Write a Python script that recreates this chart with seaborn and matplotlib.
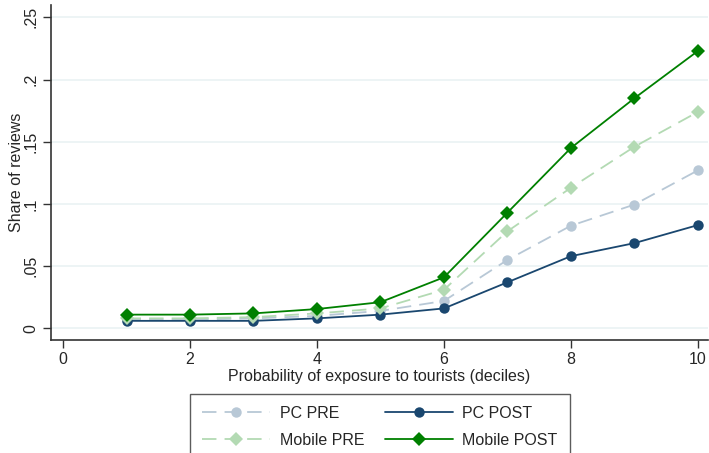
import matplotlib
matplotlib.use("Agg")
import matplotlib.pyplot as plt
import seaborn as sns
import pandas as pd
import numpy as np

deciles = [1, 2, 3, 4, 5, 6, 7, 8, 9, 10]
pc_pre = [0.007, 0.007, 0.008, 0.010, 0.014, 0.022, 0.055, 0.0825, 0.0995, 0.127]
pc_post = [0.006, 0.006, 0.006, 0.008, 0.011, 0.016, 0.037, 0.058, 0.0685, 0.083]
mobile_pre = [0.008, 0.008, 0.009, 0.012, 0.016, 0.031, 0.078, 0.113, 0.146, 0.174]
mobile_post = [0.011, 0.011, 0.012, 0.0155, 0.021, 0.041, 0.093, 0.145, 0.185, 0.223]
series_names = ["PC PRE", "PC POST", "Mobile PRE", "Mobile POST"]
x_ticks = [0, 2, 4, 6, 8, 10]
y_ticks = [0, 0.05, 0.1, 0.15, 0.2, 0.25]
y_ticklabels = ["0", ".05", ".1", ".15", ".2", ".25"]

sns.set_style("white")
plt.rcParams["font.family"] = ["Liberation Sans", "DejaVu Sans"]

df = pd.DataFrame({
    "x": deciles * 4,
    "y": pc_pre + pc_post + mobile_pre + mobile_post,
    "series": sum([[n] * len(deciles) for n in series_names], []),
})

styles = {
    "PC PRE": dict(color="#b8c8d6", marker="o", dashes=(8, 4.5), ms=7.5),
    "PC POST": dict(color="#1a476f", marker="o", dashes=None, ms=7.5),
    "Mobile PRE": dict(color="#b3dab3", marker="D", dashes=(8, 4.5), ms=7.5),
    "Mobile POST": dict(color="#008000", marker="D", dashes=None, ms=7.5),
}

fig = plt.figure(figsize=(7.09, 4.53), dpi=100)
ax = fig.add_axes([51 / 709, 113 / 453, 657 / 709, 335 / 453])

lines = {}
for name in series_names:
    st = styles[name]
    sub = df[df["series"] == name]
    sns.lineplot(data=sub, x="x", y="y", ax=ax, color=st["color"], marker=st["marker"],
                 markersize=st["ms"], markeredgewidth=0, linewidth=1.3, label=name,
                 legend=False)
    line = ax.lines[-1]
    if st["dashes"] is not None:
        line.set_dashes(st["dashes"])
    lines[name] = line

ax.set_xlim(-0.19, 10.16)
ax.set_ylim(-0.0094, 0.26)
ax.set_xticks(x_ticks)
ax.set_yticks(y_ticks)
ax.set_yticklabels(y_ticklabels, rotation=90, va="center")
ax.tick_params(axis="both", bottom=True, left=True, length=6, width=1, color="#333333",
               labelsize=11.5, direction="out")
ax.tick_params(axis="y", pad=3)
ax.tick_params(axis="x", pad=3)
ax.grid(axis="y", color="#eaf2f3", linewidth=1.2)
ax.set_axisbelow(True)
for side in ["top", "right"]:
    ax.spines[side].set_visible(False)
for side in ["left", "bottom"]:
    ax.spines[side].set_color("#333333")
    ax.spines[side].set_linewidth(1.2)
ax.set_xlabel("Probability of exposure to tourists (deciles)", fontsize=11.5, labelpad=1)
ax.set_ylabel("Share of reviews", fontsize=11.5)
ax.yaxis.set_label_coords((24 - 51) / 657, 0.5)

order = ["PC PRE", "Mobile PRE", "PC POST", "Mobile POST"]
leg = fig.legend([lines[n] for n in order], order, loc="upper center",
                 bbox_to_anchor=(0.536, 1 - 394 / 453), borderaxespad=0,
                 ncol=2, frameon=True, fancybox=False, edgecolor="#333333", fontsize=11.5,
                 handlelength=4.25, columnspacing=1.3, borderpad=0.75, labelspacing=0.75,
                 handletextpad=0.6)
leg.get_frame().set_linewidth(1.0)

fig.savefig("out.png", dpi=100)
